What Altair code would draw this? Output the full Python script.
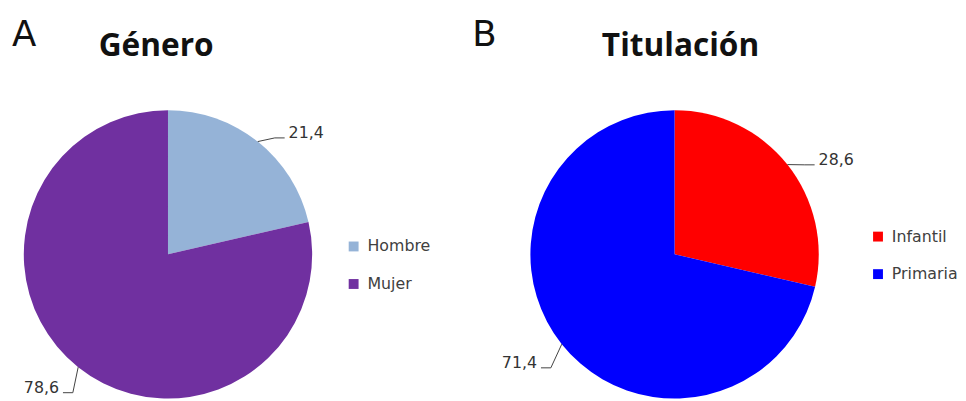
import altair as alt
import pandas as pd
import numpy as np

# ---- data ----
gen_cats = ["Hombre", "Mujer"]
gen_vals = [21.4, 78.6]
gen_colors = ["#95B3D7", "#7030A0"]

tit_cats = ["Infantil", "Primaria"]
tit_vals = [28.6, 71.4]
tit_colors = ["#FF0000", "#0000FF"]

panel_titles = ["Género", "Titulación"]
panel_letters = ["A", "B"]

R = 146          # pie radius (px); scales use 1 unit = 1 px
EXT_RIGHT = 14   # leader elbow extension, labels on the right
EXT_LEFT = 24    # leader elbow extension, labels on the left
BIAS = 4.0       # degrees the elbow is turned toward the bottom
HLEN = 10        # horizontal leader length
GAP = 4
H = 393


def label_frame(cats, vals):
    total = float(sum(vals))
    rows, cum = [], 0.0
    for c, v in zip(cats, vals):
        mid = (cum + v / 2.0) / total * 2 * np.pi
        cum += v
        s, co = np.sin(mid), np.cos(mid)
        side = 1 if s >= 0 else -1
        ext = EXT_RIGHT if side > 0 else EXT_LEFT
        ang = mid + side * np.radians(BIAS)
        kx, ky = (R + ext) * np.sin(ang), (R + ext) * np.cos(ang)
        hx = kx + side * HLEN
        rows.append(dict(cat=c, ex=R * s, ey=R * co, kx=kx, ky=ky, hx=hx,
                         tx=hx + side * GAP, side=side,
                         label=f"{v:.1f}".replace(".", ",")))
    return pd.DataFrame(rows)


def panel(cats, vals, colors, title, letter, width, cx, legx, legy,
          title_x, letter_x):
    cy = H - R
    xs = alt.Scale(domain=[-cx, width - cx], nice=False, zero=False)
    ys = alt.Scale(domain=[-(H - cy), cy], nice=False, zero=False)
    df = pd.DataFrame({"cat": cats, "val": vals, "idx": range(len(cats))})
    lab = label_frame(cats, vals)

    pie = alt.Chart(df).mark_arc(radius=R, strokeWidth=0).encode(
        theta=alt.Theta("val:Q", stack=True),
        order=alt.Order("idx:Q"),
        color=alt.Color("cat:N", title=None,
                        scale=alt.Scale(domain=cats, range=colors),
                        sort=cats,
                        legend=alt.Legend(orient="none", legendX=legx, legendY=legy,
                                          symbolType="square", symbolSize=100,
                                          symbolStrokeWidth=0,
                                          labelFont="DejaVu Sans", labelFontSize=16,
                                          labelColor="#404040", labelOffset=6,
                                          rowPadding=22, padding=0)),
        x=alt.X(datum=0, type="quantitative", scale=xs, axis=None),
        y=alt.Y(datum=0, type="quantitative", scale=ys, axis=None),
    )
    base = alt.Chart(lab)
    lead1 = base.mark_rule(color="#404040", strokeWidth=1).encode(
        x=alt.X("ex:Q", scale=xs, axis=None), y=alt.Y("ey:Q", scale=ys, axis=None),
        x2="kx:Q", y2="ky:Q")
    lead2 = base.mark_rule(color="#404040", strokeWidth=1).encode(
        x=alt.X("kx:Q", scale=xs, axis=None), y=alt.Y("ky:Q", scale=ys, axis=None),
        x2="hx:Q", y2="ky:Q")
    txt_r = base.transform_filter("datum.side > 0").mark_text(
        align="left", baseline="middle", dy=-5, font="DejaVu Sans", fontSize=16,
        color="#333333").encode(
        x=alt.X("tx:Q", scale=xs, axis=None), y=alt.Y("ky:Q", scale=ys, axis=None),
        text="label:N")
    txt_l = base.transform_filter("datum.side < 0").mark_text(
        align="right", baseline="middle", dy=-5, font="DejaVu Sans", fontSize=16,
        color="#333333").encode(
        x=alt.X("tx:Q", scale=xs, axis=None), y=alt.Y("ky:Q", scale=ys, axis=None),
        text="label:N")
    ttl = alt.Chart(pd.DataFrame({"t": [title]})).mark_text(
        align="center", baseline="alphabetic", font="Open Sans", fontWeight="bold",
        fontSize=32, color="#111111").encode(
        text="t:N", x=alt.value(title_x), y=alt.value(46))
    let = alt.Chart(pd.DataFrame({"t": [letter]})).mark_text(
        align="left", baseline="alphabetic", font="DejaVu Sans", fontSize=36,
        color="#111111").encode(
        text="t:N", x=alt.value(letter_x), y=alt.value(36))
    return alt.layer(pie, lead1, lead2, txt_r, txt_l, ttl, let).properties(
        width=width, height=H)


left = panel(gen_cats, gen_vals, gen_colors, panel_titles[0], panel_letters[0],
             465, 162, 342, 231, 150, 4)
right = panel(tit_cats, tit_vals, tit_colors, panel_titles[1], panel_letters[1],
              485, 210, 408, 221, 216, 5)

chart = alt.hconcat(left, right, spacing=0).resolve_scale(
    color="independent", x="independent", y="independent"
).properties(padding=0).configure_view(stroke=None)

chart.save("out.html", embed_options={"renderer": "svg", "actions": False})
